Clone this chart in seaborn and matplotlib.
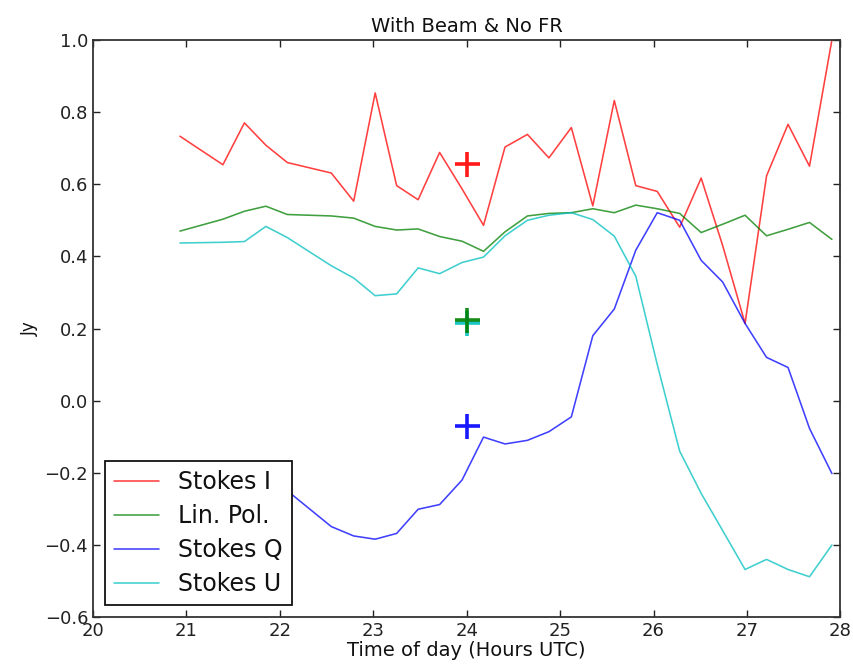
import matplotlib
matplotlib.use("Agg")
import matplotlib.pyplot as plt
import pandas as pd
import seaborn as sns


# times in hours UTC (samples at 21.16 and 22.32 are missing)
hours = [20.93, 21.39, 21.62, 21.85, 22.08, 22.55, 22.79, 23.02, 23.25, 23.48,
         23.71, 23.95, 24.18, 24.41, 24.65, 24.88, 25.12, 25.35, 25.58, 25.81,
         26.04, 26.28, 26.51, 26.74, 26.98, 27.21, 27.44, 27.67, 27.91]

stokes_i = [0.733, 0.654, 0.770, 0.708, 0.660, 0.631, 0.553, 0.853, 0.596, 0.557,
            0.688, 0.587, 0.486, 0.703, 0.738, 0.673, 0.757, 0.540, 0.832, 0.596,
            0.580, 0.481, 0.617, 0.430, 0.214, 0.623, 0.766, 0.650, 1.000]
lin_pol = [0.470, 0.503, 0.525, 0.539, 0.516, 0.512, 0.506, 0.483, 0.473, 0.476,
           0.455, 0.442, 0.414, 0.468, 0.512, 0.519, 0.521, 0.532, 0.521, 0.542,
           0.532, 0.519, 0.466, 0.489, 0.514, 0.457, 0.475, 0.494, 0.447]
stokes_q = [-0.21, -0.22, -0.23, -0.24, -0.25, -0.349, -0.375, -0.384, -0.368, -0.301,
            -0.288, -0.220, -0.101, -0.120, -0.110, -0.086, -0.045, 0.180, 0.254, 0.417,
            0.521, 0.500, 0.389, 0.329, 0.214, 0.120, 0.092, -0.077, -0.202]
stokes_u = [0.437, 0.439, 0.441, 0.483, 0.452, 0.374, 0.340, 0.291, 0.296, 0.368,
            0.352, 0.383, 0.398, 0.457, 0.500, 0.514, 0.521, 0.502, 0.456, 0.345,
            0.100, -0.140, -0.257, -0.360, -0.468, -0.440, -0.468, -0.488, -0.400]

# model values at 24h (crosses)
model_hour = 24.0
model_i = 0.657
model_pol = 0.223
model_q = -0.070
model_u = 0.214

names = ["Stokes I", "Lin. Pol.", "Stokes Q", "Stokes U"]
colors = ["#ff0000", "#008000", "#0000ff", "#00bfbf"]

df = pd.DataFrame({
    "hour": hours * 4,
    "value": stokes_i + lin_pol + stokes_q + stokes_u,
    "series": [n for n in names for _ in hours],
})
model_df = pd.DataFrame({
    "hour": [model_hour] * 4,
    "value": [model_i, model_q, model_u, model_pol],
    "series": ["Stokes I", "Stokes Q", "Stokes U", "Lin. Pol."],
})

sns.set_style("ticks")
plt.rcParams["font.family"] = ["DejaVu Sans"]
plt.rcParams["xtick.direction"] = "in"
plt.rcParams["ytick.direction"] = "in"
plt.rcParams["xtick.top"] = True
plt.rcParams["ytick.right"] = True
plt.rcParams["text.color"] = "#111111"

fig, ax = plt.subplots(figsize=(8.54, 6.65), dpi=100)
fig.subplots_adjust(left=0.109, right=0.984, top=0.94, bottom=0.072)

palette = dict(zip(names, colors))
sns.lineplot(data=df, x="hour", y="value", hue="series", palette=palette,
             hue_order=names, linewidth=1.15, alpha=0.75, ax=ax, legend=True)

# crosses, drawn one by one so the overlap order matches
for _, row in model_df.iterrows():
    ax.plot(row["hour"], row["value"], marker="+", markersize=18,
            markeredgewidth=2.6, color=palette[row["series"]], alpha=0.9,
            linestyle="none")

ax.set_xlim(20, 28)
ax.set_ylim(-0.6, 1.0)
ax.set_xticks(range(20, 29))
ax.set_yticks([-0.6, -0.4, -0.2, 0.0, 0.2, 0.4, 0.6, 0.8, 1.0])
ax.tick_params(axis="both", length=5, width=1, colors="#222222", labelsize=13)
for sp in ax.spines.values():
    sp.set_linewidth(1.3)
    sp.set_color("#333333")

ax.set_title("With Beam & No FR", fontsize=14, color="#111111")
ax.set_xlabel("Time of day (Hours UTC)", fontsize=14, labelpad=1, color="#111111")
ax.set_ylabel("Jy", fontsize=12, color="#111111")

leg = ax.legend(loc="lower left", fontsize=17, handlelength=1.9,
                handletextpad=0.8, borderpad=0.4, labelspacing=0.42,
                fancybox=False, borderaxespad=0.5)
leg.get_frame().set_edgecolor("#111111")
leg.get_frame().set_linewidth(1.3)
leg.get_frame().set_alpha(1.0)
for t in leg.get_texts():
    t.set_color("#111111")
for h in leg.get_lines():
    h.set_linewidth(1.15)

fig.savefig("out.png", dpi=100)
